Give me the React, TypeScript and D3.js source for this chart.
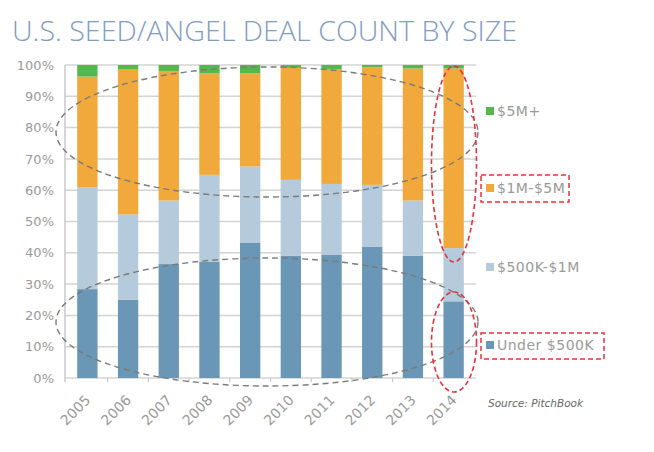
import React from 'react';
import * as d3 from 'd3';

// Share of deals (%) per year
const years = ['2005', '2006', '2007', '2008', '2009', '2010', '2011', '2012', '2013', '2014'];
const under500K = [28.4, 25.0, 36.4, 37.2, 43.3, 39.0, 39.3, 42.0, 39.1, 24.5];
const k500to1M = [32.6, 27.3, 20.3, 27.7, 24.3, 24.3, 22.7, 19.7, 17.6, 17.0];
const m1to5M = [35.3, 46.4, 41.4, 32.4, 29.7, 35.8, 36.6, 37.6, 42.2, 57.4];
const m5Plus = [3.7, 1.3, 1.9, 2.7, 2.7, 0.9, 1.4, 0.7, 1.1, 1.1];

const seriesNames = ['Under $500K', '$500K-$1M', '$1M-$5M', '$5M+'];
const seriesColors = ['#6b97b6', '#b5cadb', '#f2a93b', '#55b84d'];
const yTicks = [0, 10, 20, 30, 40, 50, 60, 70, 80, 90, 100];

const App: React.FC = () => {
  const width = 654;
  const height = 452;
  const left = 65;
  const right = 476;
  const top = 65;
  const bottom = 378;

  const x = d3.scaleBand<string>().domain(years).range([left, right]).paddingInner(0.5).paddingOuter(0.3);
  const y = d3.scaleLinear().domain([0, 100]).range([bottom, top]);

  const rows = years.map((yr, i) => ({
    year: yr,
    s0: under500K[i],
    s1: k500to1M[i],
    s2: m1to5M[i],
    s3: m5Plus[i],
  }));
  const stack = d3.stack<any>().keys(['s0', 's1', 's2', 's3']);
  const layers = stack(rows);

  const font = "'DejaVu Sans', sans-serif";
  const gray = '#9a9a9a';

  return (
    <svg width={width} height={height} style={{ position: 'absolute', left: 0, top: 0, background: '#fff' }}>
      <text x={12} y={41} fontFamily="'Open Sans', sans-serif" fontWeight={300} fontSize={27} fill="#7f9cc4"
        textLength={505} lengthAdjust="spacingAndGlyphs">
        U.S. SEED/ANGEL DEAL COUNT BY SIZE
      </text>

      {/* gridlines + y labels */}
      {yTicks.map(t => (
        <g key={t}>
          <line x1={left} x2={right} y1={y(t)} y2={y(t)} stroke="#d4d4d4" strokeWidth={1.5} />
          <text x={54} y={y(t)} dy="0.36em" textAnchor="end" fontFamily={font} fontSize={13} fill={gray}>
            {t}%
          </text>
        </g>
      ))}
      <line x1={left} x2={left} y1={top} y2={bottom + 4} stroke="#c8c8c8" strokeWidth={1.5} />

      {/* bars */}
      {layers.map((layer, li) => (
        <g key={li} fill={seriesColors[li]}>
          {layer.map((d, i) => (
            <rect key={i} x={x(years[i])} width={x.bandwidth()} y={y(d[1])} height={y(d[0]) - y(d[1])} />
          ))}
        </g>
      ))}

      {/* bottom ticks at band edges */}
      {years.map((yr, i) => {
        const xe = (x(yr) as number) + x.bandwidth() + (x.step() - x.bandwidth()) / 2;
        return i < years.length - 1 ? (
          <line key={yr} x1={xe} x2={xe} y1={bottom} y2={bottom + 4} stroke="#c8c8c8" strokeWidth={1.2} />
        ) : null;
      })}

      {/* x labels */}
      {years.map(yr => {
        const cx = (x(yr) as number) + x.bandwidth() / 2 + 4;
        const cy = 401;
        return (
          <text key={yr} x={cx} y={cy} transform={`rotate(-45 ${cx} ${cy})`} textAnchor="end"
            fontFamily={font} fontSize={14} fill={gray}>
            {yr}
          </text>
        );
      })}

      {/* gray dashed ellipses */}
      <ellipse cx={267} cy={132} rx={211} ry={65} fill="none" stroke="#7a7a7a" strokeWidth={1.4} strokeDasharray="6 4" />
      <ellipse cx={267} cy={322} rx={211} ry={64} fill="none" stroke="#7a7a7a" strokeWidth={1.4} strokeDasharray="6 4" />

      {/* red highlight ellipses */}
      <ellipse cx={454} cy={164} rx={22.5} ry={98} fill="none" stroke="#e8323c" strokeWidth={1.6} strokeDasharray="5 3" />
      <ellipse cx={454} cy={342} rx={22.5} ry={50} fill="none" stroke="#e8323c" strokeWidth={1.6} strokeDasharray="5 3" />

      {/* legend */}
      {[3, 2, 1, 0].map((si, k) => {
        const ly = [111, 188, 267, 345][k];
        return (
          <g key={si}>
            <rect x={486} y={ly - 4} width={8} height={8} fill={seriesColors[si]} />
            <text x={497} y={ly} dy="0.36em" fontFamily={font} fontSize={14} letterSpacing={0.5} fill={gray}>
              {seriesNames[si]}
            </text>
          </g>
        );
      })}
      <rect x={481} y={175} width={88} height={27} fill="none" stroke="#e8323c" strokeWidth={1.5} strokeDasharray="5 3" />
      <rect x={481} y={333} width={123} height={26} fill="none" stroke="#e8323c" strokeWidth={1.5} strokeDasharray="5 3" />

      <text x={488} y={407} fontFamily={font} fontStyle="italic" fontSize={10.5} fill="#666">
        Source: PitchBook
      </text>
    </svg>
  );
};

export default App;
